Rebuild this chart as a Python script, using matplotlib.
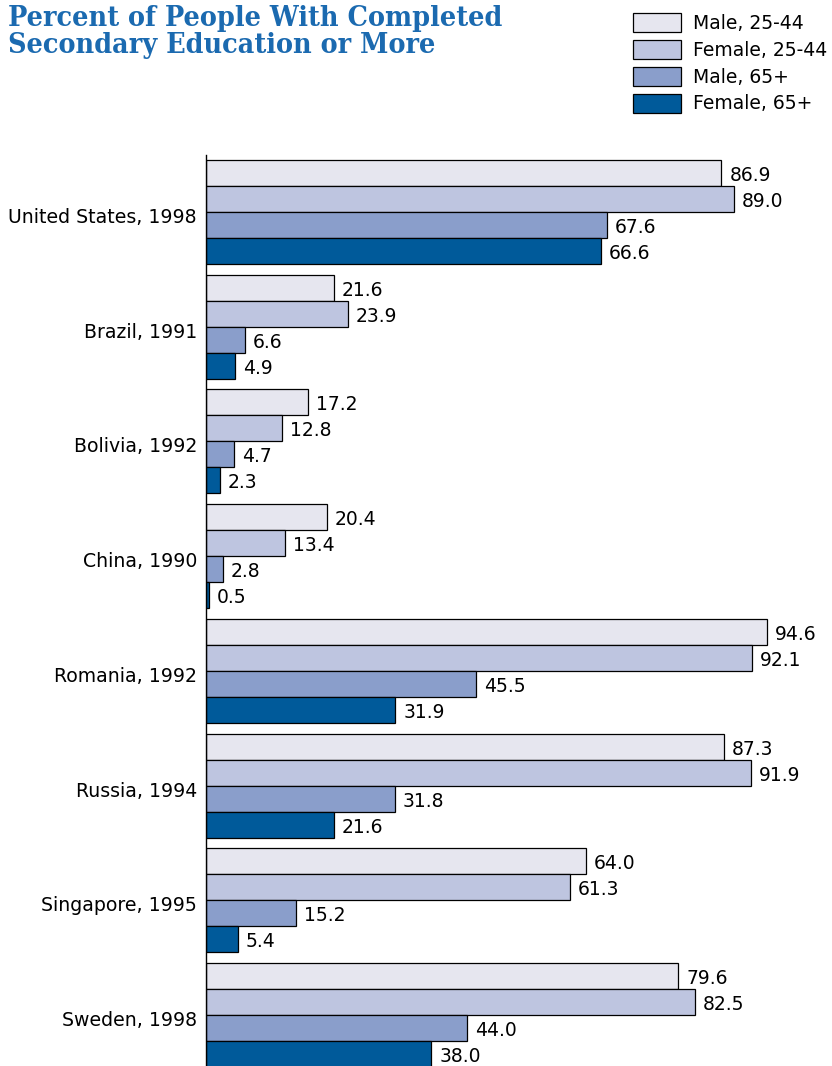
import matplotlib
matplotlib.use("Agg")
import matplotlib.pyplot as plt
import matplotlib.transforms as mtransforms
import numpy as np

categories = ["United States, 1998", "Brazil, 1991", "Bolivia, 1992", "China, 1990",
              "Romania, 1992", "Russia, 1994", "Singapore, 1995", "Sweden, 1998"]
series_names = ["Male, 25-44", "Female, 25-44", "Male, 65+", "Female, 65+"]
male_25_44 = [86.9, 21.6, 17.2, 20.4, 94.6, 87.3, 64.0, 79.6]
female_25_44 = [89.0, 23.9, 12.8, 13.4, 92.1, 91.9, 61.3, 82.5]
male_65 = [67.6, 6.6, 4.7, 2.8, 45.5, 31.8, 15.2, 44.0]
female_65 = [66.6, 4.9, 2.3, 0.5, 31.9, 21.6, 5.4, 38.0]
series = [male_25_44, female_25_44, male_65, female_65]
colors = ["#E6E6EF", "#BEC5E0", "#8A9ECB", "#005A9A"]

W, H = 832, 1066
fig = plt.figure(figsize=(W / 100, H / 100), dpi=100)
ax = fig.add_axes([206 / W, 0, 1 - 206 / W, 1 - 155 / H])

down = mtransforms.ScaledTranslation(0, -2.5 / 100, fig.dpi_scale_trans)

bar_h = 26 / 114.7
y = np.arange(len(categories))
for k, (vals, col, name) in enumerate(zip(series, colors, series_names)):
    pos = y + (k - 1.5) * bar_h
    ax.barh(pos, vals, height=bar_h, color=col, edgecolor="black",
            linewidth=0.9, label=name)
    for p, v in zip(pos, vals):
        ax.text(v + 1.35, p, f"{v:.1f}", va="center", ha="left",
                fontsize=13.5, color="black", transform=ax.transData + down)

ax.set_xlim(0, (W - 206) / 5.93)
ax.set_ylim(7 + 0.445, -0.497)
ax.set_yticks(y)
ax.set_yticklabels(categories, fontsize=13.6)
ax.tick_params(axis="y", length=0, pad=6.5)
for lbl in ax.get_yticklabels():
    lbl.set_transform(lbl.get_transform() + mtransforms.ScaledTranslation(0, -3.5 / 100, fig.dpi_scale_trans))
ax.set_xticks([])
for s in ["top", "right", "bottom"]:
    ax.spines[s].set_visible(False)
ax.spines["left"].set_linewidth(1.0)

fig.text(8 / W, 1 - 5 / H, "Percent of People With Completed\nSecondary Education or More",
         ha="left", va="top", fontsize=20.5, fontweight="heavy", family="DejaVu Serif",
         fontstretch="condensed", color="#1B6AB0", linespacing=1.0)

handles, labels = ax.get_legend_handles_labels()
fig.legend(handles, labels, loc="upper left", bbox_to_anchor=(633 / W, 1 - 13 / H),
           frameon=False, fontsize=13.5, handlelength=2.56, handleheight=1.17,
           labelspacing=0.38, handletextpad=0.64, borderpad=0, borderaxespad=0)

fig.savefig("out.png", dpi=100)
